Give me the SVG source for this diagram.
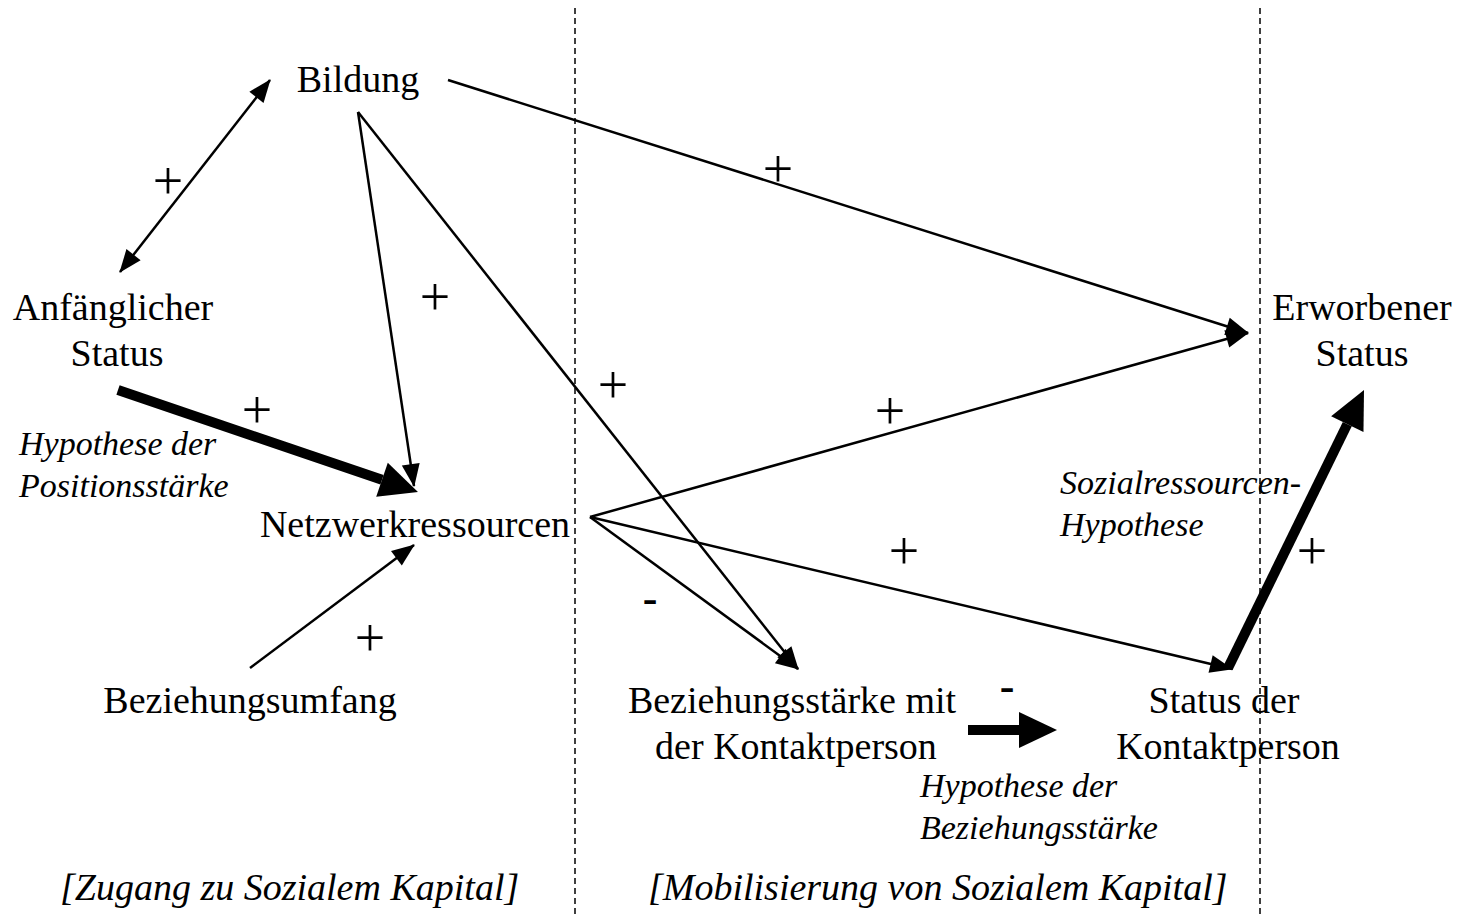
<svg xmlns="http://www.w3.org/2000/svg" width="1457" height="914" viewBox="0 0 1457 914">
<style>
.t{font-family:"Liberation Serif","Times New Roman",serif;font-size:38px;fill:#000}
.i{font-family:"Liberation Serif","Times New Roman",serif;font-size:34px;font-style:italic;fill:#000}
.b{font-family:"Liberation Serif","Times New Roman",serif;font-size:38px;font-style:italic;fill:#000}
.s{font-family:"Liberation Serif","Times New Roman",serif;font-size:54px;fill:#000}
.m{font-family:"Liberation Serif","Times New Roman",serif;font-size:44px;font-weight:bold;fill:#000}
.c{stroke:#000;stroke-width:2.5;fill:none}
.k{stroke:#000;stroke-width:10;fill:none}
.d{stroke:#000;stroke-width:1.5;stroke-dasharray:6,4;fill:none}
</style>
<defs>
<marker id="ah" markerUnits="userSpaceOnUse" markerWidth="24" markerHeight="20" refX="22" refY="9" orient="auto-start-reverse" overflow="visible"><path d="M0,0 L23,9 L0,18 z" fill="#000"/></marker>
<marker id="bh" markerUnits="userSpaceOnUse" markerWidth="40" markerHeight="36" refX="0" refY="18" orient="auto" overflow="visible"><path d="M0,0 L38,18 L0,36 z" fill="#000"/></marker>
</defs>
<rect width="1457" height="914" fill="#fff"/>
<g id="dividers">
<line class="d" x1="575" y1="8" x2="575" y2="914"/>
<line class="d" x1="1260" y1="8" x2="1260" y2="914"/>
</g>
<g id="connectors">
<line class="c" x1="120" y1="272" x2="270" y2="80" marker-start="url(#ah)" marker-end="url(#ah)"/>
<line class="c" x1="358" y1="112" x2="414" y2="486" marker-end="url(#ah)"/>
<line class="c" x1="358" y1="112" x2="798" y2="669" marker-end="url(#ah)"/>
<line class="c" x1="448" y1="80" x2="1248" y2="333" marker-end="url(#ah)"/>
<line class="c" x1="250" y1="668" x2="414" y2="545" marker-end="url(#ah)"/>
<line class="c" x1="590" y1="517" x2="1248" y2="333" marker-end="url(#ah)"/>
<line class="c" x1="590" y1="517" x2="1232" y2="669" marker-end="url(#ah)"/>
<line class="c" x1="590" y1="517" x2="798" y2="669" marker-end="url(#ah)"/>
<line class="k" x1="118" y1="390" x2="382" y2="479.8" marker-end="url(#bh)"/>
<line class="k" x1="968" y1="730" x2="1019" y2="730" marker-end="url(#bh)"/>
<line class="k" x1="1228" y1="668" x2="1347.3" y2="424.1" marker-end="url(#bh)"/>
</g>
<g id="signs">
<text class="s" x="168" y="199" text-anchor="middle">+</text>
<text class="s" x="778" y="187" text-anchor="middle">+</text>
<text class="s" x="435" y="315" text-anchor="middle">+</text>
<text class="s" x="613" y="403" text-anchor="middle">+</text>
<text class="s" x="257" y="428" text-anchor="middle">+</text>
<text class="s" x="890" y="429" text-anchor="middle">+</text>
<text class="s" x="904" y="569" text-anchor="middle">+</text>
<text class="s" x="1312" y="569" text-anchor="middle">+</text>
<text class="s" x="370" y="656" text-anchor="middle">+</text>
<text class="m" x="650" y="613" text-anchor="middle">-</text>
<text class="m" x="1007" y="701" text-anchor="middle">-</text>
</g>
<g id="bildung"><text class="t" x="358" y="92" text-anchor="middle">Bildung</text></g>
<g id="anfaenglicher-status">
<text class="t" x="113" y="320" text-anchor="middle">Anfänglicher</text>
<text class="t" x="117" y="366" text-anchor="middle">Status</text>
</g>
<g id="netzwerkressourcen"><text class="t" x="415" y="537" text-anchor="middle">Netzwerkressourcen</text></g>
<g id="beziehungsumfang"><text class="t" x="250" y="713" text-anchor="middle">Beziehungsumfang</text></g>
<g id="beziehungsstaerke">
<text class="t" x="792" y="713" text-anchor="middle">Beziehungsstärke mit</text>
<text class="t" x="796" y="759" text-anchor="middle">der Kontaktperson</text>
</g>
<g id="status-kontaktperson">
<text class="t" x="1224" y="713" text-anchor="middle">Status der</text>
<text class="t" x="1228" y="759" text-anchor="middle">Kontaktperson</text>
</g>
<g id="erworbener-status">
<text class="t" x="1362" y="320" text-anchor="middle">Erworbener</text>
<text class="t" x="1362" y="366" text-anchor="middle">Status</text>
</g>
<g id="hypothese-positionsstaerke">
<text class="i" x="19" y="455">Hypothese der</text>
<text class="i" x="19" y="497">Positionsstärke</text>
</g>
<g id="sozialressourcen-hypothese">
<text class="i" x="1060" y="494">Sozialressourcen-</text>
<text class="i" x="1060" y="536">Hypothese</text>
</g>
<g id="hypothese-beziehungsstaerke">
<text class="i" x="920" y="797">Hypothese der</text>
<text class="i" x="920" y="839">Beziehungsstärke</text>
</g>
<g id="section-labels">
<text class="b" x="60" y="900">[Zugang zu Sozialem Kapital]</text>
<text class="b" x="648" y="900">[Mobilisierung von Sozialem Kapital]</text>
</g>
</svg>
